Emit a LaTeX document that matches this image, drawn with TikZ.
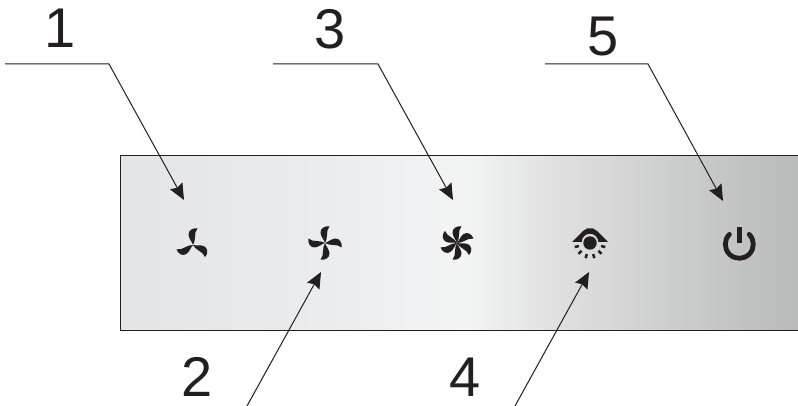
\documentclass[tikz,border=0pt]{standalone}
\usepackage{fontspec}
\setmainfont{Liberation Sans}
\usetikzlibrary{arrows.meta}
\definecolor{inkblack}{RGB}{35,31,32}
\definecolor{panelleft}{RGB}{227,228,230}
\definecolor{panelmid}{RGB}{236,237,238}
\definecolor{panelhigh}{RGB}{243,244,244}
\definecolor{panellow}{RGB}{223,224,223}
\definecolor{panelright}{RGB}{184,186,185}
\pgfdeclarehorizontalshading{panelshade}{100bp}{
  color(0bp)=(panelleft); color(25bp)=(panelleft);
  color(41.6bp)=(panelmid); color(50.2bp)=(panelhigh);
  color(56.9bp)=(panellow); color(75bp)=(panelright); color(100bp)=(panelright)}
\begin{document}
\begin{tikzpicture}[
  x=1pt, y=-1pt,
  digit/.style={anchor=base, inner sep=0pt, text=inkblack, font=\fontsize{56}{56}\selectfont},
  leader/.style={draw=inkblack, line width=1pt, line join=miter},
  pointer/.style={leader, -{Stealth[length=16pt,width=14pt,inset=2pt]}},
  blade/.pic={\fill[inkblack] (0,0) .. controls (-0.5,-2.5) and (-4,-6) .. (-4.5,-10)
    .. controls (-4.8,-14.5) and (-0.5,-17.5) .. (4.5,-16.5)
    .. controls (2.5,-14) and (1.8,-11) .. (2,-8) .. controls (2.2,-5) and (1,-2) .. (0,0) -- cycle;},
]
\useasboundingbox (0,0) rectangle (798,406);
\fill[white] (0,0) rectangle (798,406);
\node[draw=inkblack, line width=1.2pt, shading=panelshade, inner sep=0pt, anchor=north west,
  minimum width=682pt, minimum height=175pt] (panel) at (120,155) {};
% callout numbers
\node[digit] (n1) at (60,48) {1};
\node[digit] (n2) at (197,396) {2};
\node[digit] (n3) at (330,49) {3};
\node[digit] (n4) at (465,396) {4};
\node[digit] (n5) at (603,56) {5};
% leaders
\coordinate (s1) at (5,64);
\coordinate (k1) at (109,64);
\coordinate (t1) at (184,200);
\coordinate (s3) at (273,64);
\coordinate (k3) at (378,64);
\coordinate (t3) at (453,200);
\coordinate (s5) at (545,64);
\coordinate (k5) at (648,64);
\coordinate (t5) at (723,201);
\coordinate (s2) at (247,406);
\coordinate (t2) at (321,272);
\coordinate (s4) at (515,406);
\coordinate (t4) at (589,272);
\draw[pointer] (s1) -- (k1) -- (t1);
\draw[pointer] (s3) -- (k3) -- (t3);
\draw[pointer] (s5) -- (k5) -- (t5);
\draw[pointer] (s2) -- (t2);
\draw[pointer] (s4) -- (t4);
% icons
\foreach \a in {0,-120,-240} \pic[rotate=\a] at (193,245) {blade};
\foreach \a in {0,-90,-180,-270} \pic[rotate=\a] at (325,243) {blade};
\foreach \a in {0,-60,-120,-180,-240,-300} \pic[rotate=\a] at (457,243) {blade};
\fill[inkblack] (572,242) -- (583,231) -- (587,228.5) -- (593,228.5) -- (597,231) -- (608,242) -- (598.3,242) arc[start angle=0, end angle=-180, radius=8.3] -- cycle;
\fill[inkblack] (590,243) circle[radius=6.7];
\foreach \a in {15,43,74,106,137,165}
  \draw[inkblack, line width=2.5pt] ([shift={(\a:11.5)}]590,243) -- ([shift={(\a:15.8)}]590,243);
\draw[inkblack, line width=4.8pt, line cap=round] (749.2,234.4) arc[start angle=-45, end angle=225, radius=14];
\draw[inkblack, line width=4.8pt] (739.3,227.3) -- (739.3,243);
\end{tikzpicture}
\end{document}
